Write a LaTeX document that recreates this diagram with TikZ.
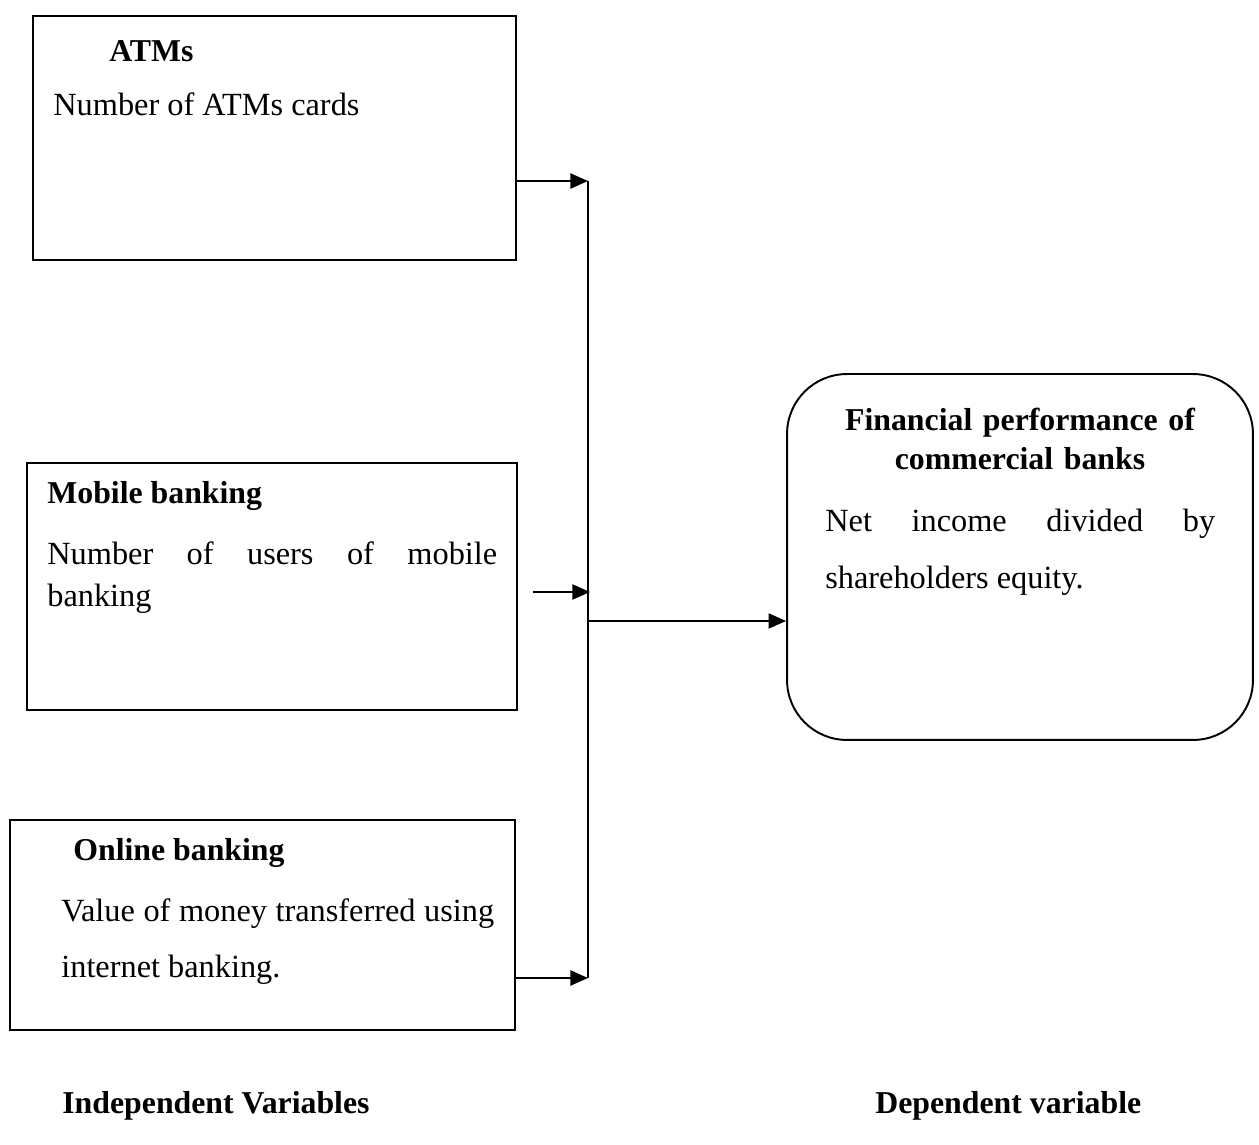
\documentclass[tikz,border=0pt]{standalone}
\usepackage{fontspec}
\setmainfont{Liberation Serif}
\usetikzlibrary{arrows.meta}
\begin{document}
\begin{tikzpicture}[x=0.02cm,y=-0.02cm,
        varbox/.style={draw,line width=1.1pt,inner sep=0pt},
        txt/.style={inner sep=0pt,font=\fontsize{18.4}{24}\selectfont},
        bld/.style={inner sep=0pt,font=\fontsize{18.1}{22}\selectfont\bfseries},
        link/.style={line width=1.3pt,-{Triangle[length=10pt,width=8.5pt]}}]
                \useasboundingbox (0,0) rectangle (1259,1145);
                %% independent variables
                \node[varbox,minimum width=9.66cm,minimum height=4.88cm] (atm) at (274.5,138) {};
                \node[varbox,minimum width=9.8cm,minimum height=4.94cm] (mob) at (272,586.5) {};
                \node[varbox,minimum width=10.1cm,minimum height=4.2cm] (onl) at (262.5,925) {};
                %% dependent variable
                \node[varbox,rounded corners=1.2cm,minimum width=9.32cm,minimum height=7.32cm] (fin) at (1020,557) {};
                %% texts
                \node[bld,anchor=base west] (atmT) at (109,62) {ATMs};
                \node[txt,anchor=base west] (atmD) at (53,116) {Number of ATMs cards};
                \node[bld,anchor=base west] (mobT) at (47,504) {Mobile banking};
                \node[txt,anchor=north west,text width=9cm,align=justify] (mobD) at (47,541) {Number of users of mobile\linebreak banking};
                \node[bld,anchor=base west] (onlT) at (73,860) {Online banking};
                \node[txt,anchor=north west,text width=8.66cm,align=justify,font=\fontsize{18.4}{32}\selectfont] (onlD) at (61,898) {Value of money transferred using\linebreak internet banking.};
                \node[bld,anchor=north,text width=9cm,align=center] (finT) at (1020,408) {Financial performance of\\commercial banks};
                \node[txt,anchor=north west,text width=7.8cm,align=justify,font=\fontsize{18.4}{32}\selectfont] (finD) at (825,509) {Net income divided by\linebreak shareholders equity.};
                \node[bld,anchor=base west] (indep) at (62,1113) {Independent Variables};
                \node[bld,anchor=base west] (dep) at (875,1113) {Dependent variable};
                %% connectors
                \coordinate (busTop) at (588,181);
                \coordinate (busBot) at (588,978);
                \coordinate (mobS) at (533,592);
                \coordinate (mobE) at (590,592);
                \coordinate (join) at (588,621);
                \draw[line width=1.3pt] (busTop) -- (busBot);
                \draw[link] (atm.east |- busTop) -- (busTop);
                \draw[link] (mobS) -- (mobE);
                \draw[link] (onl.east |- busBot) -- (busBot);
                \draw[link] (join) -- (fin.west |- join);
            \end{tikzpicture}
\end{document}
